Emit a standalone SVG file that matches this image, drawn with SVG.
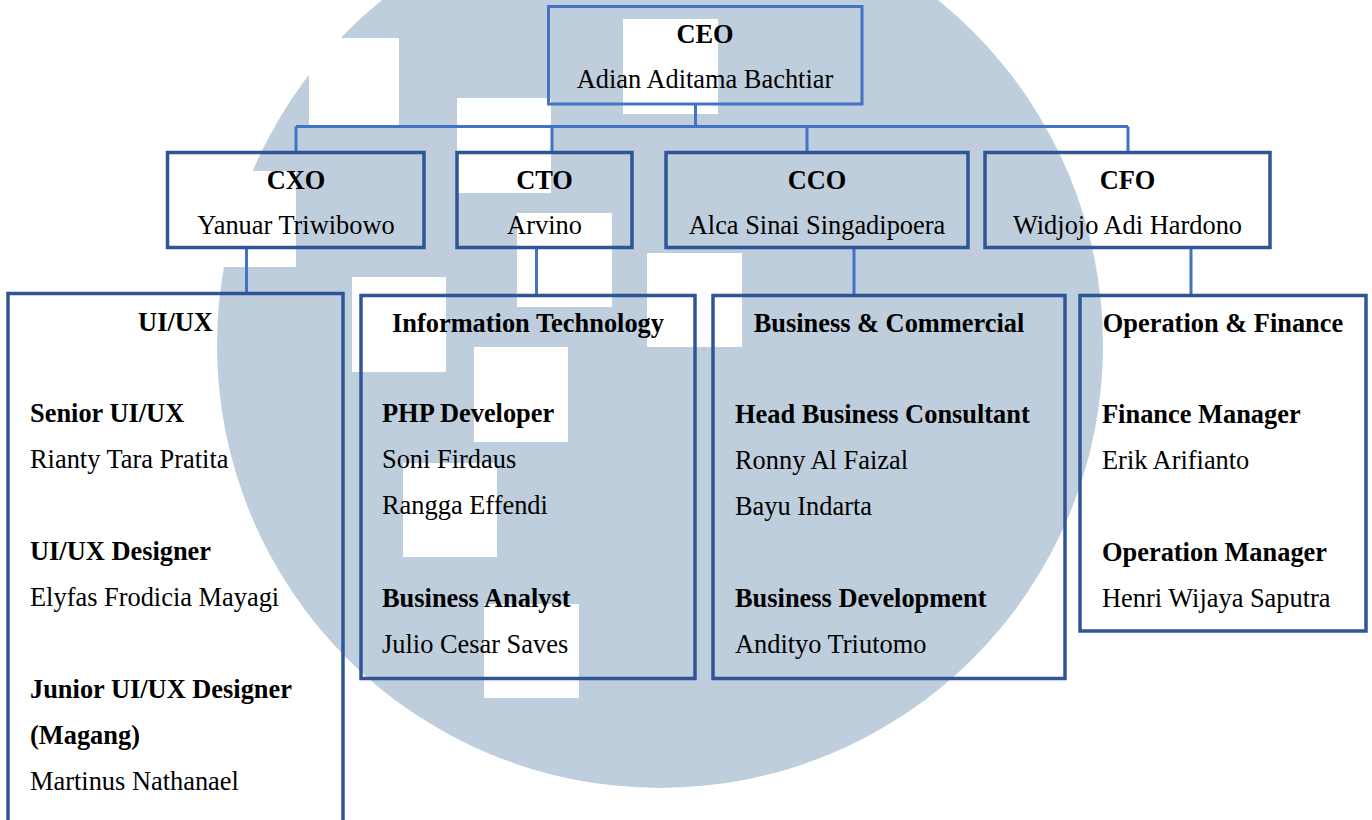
<svg xmlns="http://www.w3.org/2000/svg" width="1372" height="820" viewBox="0 0 1372 820">
<style>
  .bg { fill: #bfcedc; }
  .cut { fill: #ffffff; }
  .box { fill: none; stroke: #2f5597; stroke-width: 3.5; }
  .top { fill: none; stroke: #4472c4; stroke-width: 3; }
  .conn { fill: none; stroke: #4472c4; stroke-width: 3; }
  text { font-family: "Liberation Serif", "Times New Roman", serif; font-size: 26.4px; fill: #000; }
  .b { font-weight: bold; }
  .c { text-anchor: middle; }
</style>
<rect x="0" y="0" width="1372" height="820" fill="#ffffff"/>
<g id="watermark">
  <circle class="bg" cx="660" cy="345" r="443"/>
  <rect class="cut" x="309" y="38" width="90" height="89"/>
  <rect class="cut" x="190" y="171" width="106" height="96"/>
  <rect class="cut" x="457" y="98" width="94" height="95"/>
  <rect class="cut" x="623" y="19" width="95" height="95"/>
  <rect class="cut" x="517" y="213" width="95" height="94"/>
  <rect class="cut" x="352" y="277" width="94" height="95"/>
  <rect class="cut" x="647" y="253" width="95" height="94"/>
  <rect class="cut" x="474" y="347" width="94" height="95"/>
  <rect class="cut" x="403" y="463" width="94" height="94"/>
  <rect class="cut" x="484" y="604" width="95" height="94"/>
</g>
<g id="connectors">
  <path class="conn" d="M695.5 104 V126.5 M296 126.5 H1128 M296 126.5 V152 M552 126.5 V152 M807 126.5 V152 M1128 126.5 V152"/>
  <path class="conn" d="M246.5 248 V293 M536.5 248 V295 M854 248 V295 M1191 248 V295"/>
</g>
<g id="ceo">
  <rect class="top" x="548.5" y="6.5" width="313.5" height="97.5"/>
  <text class="b c" x="705" y="43">CEO</text>
  <text class="c" x="705" y="88">Adian Aditama Bachtiar</text>
</g>
<g id="cxo">
  <rect class="box" x="167.5" y="152.5" width="256.5" height="95"/>
  <text class="b c" x="296" y="188.5">CXO</text>
  <text class="c" x="296" y="233.5">Yanuar Triwibowo</text>
</g>
<g id="cto">
  <rect class="box" x="457" y="152.5" width="175" height="95"/>
  <text class="b c" x="544.5" y="188.5">CTO</text>
  <text class="c" x="544.5" y="233.5">Arvino</text>
</g>
<g id="cco">
  <rect class="box" x="666" y="152.5" width="302" height="95"/>
  <text class="b c" x="817" y="188.5">CCO</text>
  <text class="c" x="817" y="233.5">Alca Sinai Singadipoera</text>
</g>
<g id="cfo">
  <rect class="box" x="985" y="152.5" width="285" height="95"/>
  <text class="b c" x="1127.5" y="188.5">CFO</text>
  <text class="c" x="1127.5" y="233.5">Widjojo Adi Hardono</text>
</g>
<g id="uiux">
  <rect class="box" x="8" y="293.5" width="335" height="540"/>
  <text class="b c" x="175.5" y="331">UI/UX</text>
  <text class="b" x="30" y="422">Senior UI/UX</text>
  <text x="30" y="468">Rianty Tara Pratita</text>
  <text class="b" x="30" y="560">UI/UX Designer</text>
  <text x="30" y="606">Elyfas Frodicia Mayagi</text>
  <text class="b" x="30" y="698">Junior UI/UX Designer</text>
  <text class="b" x="30" y="744">(Magang)</text>
  <text x="30" y="790">Martinus Nathanael</text>
</g>
<g id="it">
  <rect class="box" x="361" y="295.5" width="334" height="383"/>
  <text class="b c" x="528" y="332">Information Technology</text>
  <text class="b" x="382" y="422">PHP Developer</text>
  <text x="382" y="468">Soni Firdaus</text>
  <text x="382" y="514">Rangga Effendi</text>
  <text class="b" x="382" y="607">Business Analyst</text>
  <text x="382" y="653">Julio Cesar Saves</text>
</g>
<g id="bc">
  <rect class="box" x="713" y="295.5" width="352" height="383"/>
  <text class="b c" x="889" y="332">Business &amp; Commercial</text>
  <text class="b" x="735" y="423">Head Business Consultant</text>
  <text x="735" y="469">Ronny Al Faizal</text>
  <text x="735" y="515">Bayu Indarta</text>
  <text class="b" x="735" y="607">Business Development</text>
  <text x="735" y="653">Andityo Triutomo</text>
</g>
<g id="of">
  <rect class="box" x="1080" y="295.5" width="286" height="335.5"/>
  <text class="b c" x="1223" y="332">Operation &amp; Finance</text>
  <text class="b" x="1102" y="423">Finance Manager</text>
  <text x="1102" y="469">Erik Arifianto</text>
  <text class="b" x="1102" y="561">Operation Manager</text>
  <text x="1102" y="607">Henri Wijaya Saputra</text>
</g>
</svg>
